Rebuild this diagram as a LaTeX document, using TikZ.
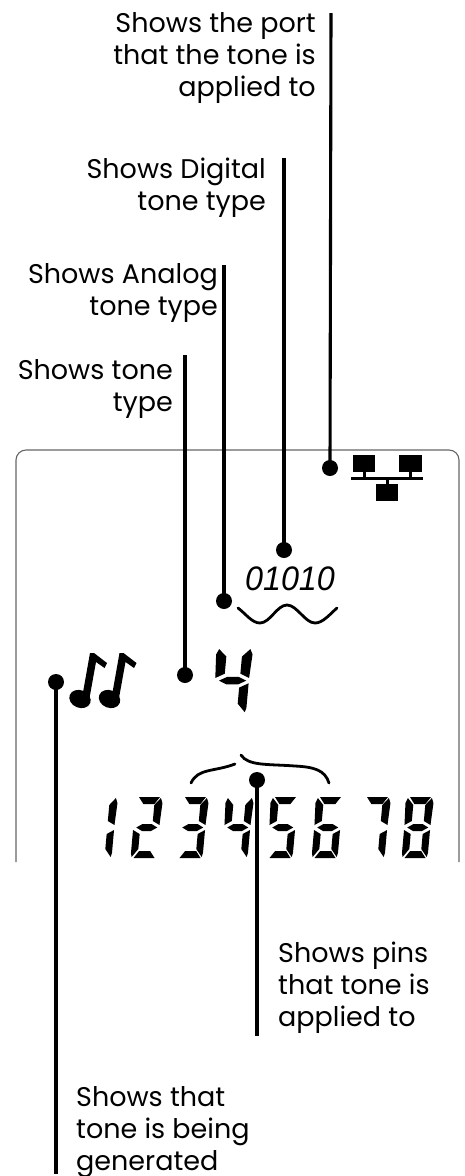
\documentclass[tikz,border=0pt]{standalone}
\usepackage{fontspec}
\setmainfont{Poppins}
\newfontfamily\digitfont[FakeStretch=0.95]{Liberation Sans}
\tikzset{
  dot/.style={circle,fill=black,draw=none,minimum size=16pt,inner sep=0pt},
  lead/.style={black,line width=3.1pt},
  lbl/.style={inner sep=0pt,font=\fontsize{27}{32}\selectfont,text=black},
  lblr/.style={lbl,align=right,anchor=north east},
  lbll/.style={lbl,align=left,anchor=north west},
  seg/.style={fill=black,draw=none,line join=round},
  curvy/.style={black,line width=2.8pt,line cap=round},
  panel/.style={draw=black!60,line width=1.1pt,rounded corners=10pt}
}
% segments in local coordinates: 26 wide, 61 high
\newcommand{\sA}{\fill[seg] (3,0)--(24,0)--(19,7)--(8,7)--cycle;}
\newcommand{\sB}{\fill[seg] (25,1)--(27,6)--(26,28)--(19,24)--(19,8)--cycle;}
\newcommand{\sC}{\fill[seg] (26,33)--(26,56)--(25,60)--(19,52)--(19,37)--cycle;}
\newcommand{\sD}{\fill[seg] (3,61)--(24,61)--(19,54)--(8,54)--cycle;}
\newcommand{\sE}{\fill[seg] (0,33)--(0,56)--(1,60)--(7,52)--(7,37)--cycle;}
\newcommand{\sF}{\fill[seg] (1,1)--(-1,6)--(0,28)--(7,24)--(7,8)--cycle;}
\newcommand{\sG}{\fill[seg] (3,30.5)--(9,27)--(18,27)--(24,30.5)--(18,34)--(9,34)--cycle;}
\newcommand{\segdigit}[3]{\begin{scope}[shift={(#1,#2)},xslant=0.09]#3\end{scope}}
\begin{document}
\begin{tikzpicture}[x=1pt,y=-1pt]
\useasboundingbox (0,0) rectangle (465,1176);
\clip (0,0) rectangle (465,1176);
% panel
\draw[panel] (16,862) -- (16,450) -- (459,450) -- (459,862);
% labels
\node[lblr] (tPort) at (316,12) {Shows the port\\that the tone is\\applied to};
\node[lblr] (tDig) at (266,158) {Shows Digital\\tone type};
\node[lblr] (tAna) at (218,263) {Shows Analog\\tone type};
\node[lblr] (tTone) at (173,359) {Shows tone\\type};
\node[lbll] (tPins) at (278,942) {Shows pins\\that tone is\\applied to};
\node[lbll] (tGen) at (76,1086) {Shows that\\tone is being\\generated};
% dots and leaders
\node[dot] (dPort) at (330,468) {};
\node[dot] (dDig) at (284,550) {};
\node[dot] (dAna) at (224,601) {};
\node[dot] (dTone) at (185,675) {};
\node[dot] (dGen) at (56,682) {};
\node[dot] (dPins) at (257,780) {};
\coordinate (ePort) at (331,13);
\coordinate (eDig) at (284,158);
\coordinate (eAna) at (224,265);
\coordinate (eTone) at (185,355);
\coordinate (eGen) at (56,1174);
\coordinate (ePins) at (257,1036);
\draw[lead] (dPort.center) -- (ePort);
\draw[lead] (dDig.center) -- (eDig);
\draw[lead] (dAna.center) -- (eAna);
\draw[lead] (dTone.center) -- (eTone);
\draw[lead] (dGen.center) -- (eGen);
\draw[lead] (dPins.center) -- (ePins);
% network icon
\fill (353,455) rectangle (375,472);
\fill (399,455) rectangle (422,472);
\fill (376,484) rectangle (398,501);
\fill (351,476.5) rectangle (423,479.5);
\fill (362.5,472) rectangle (365.5,478);
\fill (408.5,472) rectangle (411.5,478);
\fill (385.5,478) rectangle (388.5,484);
% 01010 and wave
\node[inner sep=0pt,anchor=base,font=\digitfont\itshape\fontsize{34}{34}\selectfont] (tBits) at (290,590) {01010};
\draw[curvy] (238,608) .. controls (246,614) and (252,623) .. (260,623) .. controls (270,623) and (277,605) .. (287,605) .. controls (297,605) and (305,623) .. (315,623) .. controls (323,623) and (330,614) .. (337,608);
% notes
\foreach \ox in {0,29.5}{
  \begin{scope}[shift={(\ox,0)}]
  \fill[rotate around={-22:(80,699)}] (80,699) ellipse [x radius=11,y radius=8.8];
  \fill[line join=round] (82,698) -- (89.5,698) -- (96,662) -- (104.5,668) -- (107,663) -- (94,653) -- (90,653) -- cycle;
  \end{scope}
}
% big digit 4
\begin{scope}[shift={(218,648)},xslant=0.09,xscale=1.3,yscale=1.07]
\sB \sC \sF \sG
\end{scope}
% brace
\draw[curvy] (191,783) .. controls (198,768) and (214,772) .. (235,764);
\draw[curvy] (241,755) .. controls (248,766) and (268,764) .. (295,766) .. controls (314,767) and (325,770) .. (329,783);
% pin digits
\segdigit{91}{797}{\sB \sC}
\segdigit{136}{797}{\sA \sB \sG \sE \sD}
\segdigit{182}{797}{\sA \sB \sG \sC \sD}
\segdigit{227}{797}{\sF \sB \sG \sC}
\segdigit{272}{797}{\sA \sF \sG \sC \sD}
\segdigit{317}{797}{\sA \sF \sG \sE \sC \sD}
\segdigit{364}{797}{\sA \sB \sC}
\segdigit{407}{797}{\sA \sB \sC \sD \sE \sF \sG}
\end{tikzpicture}
\end{document}
